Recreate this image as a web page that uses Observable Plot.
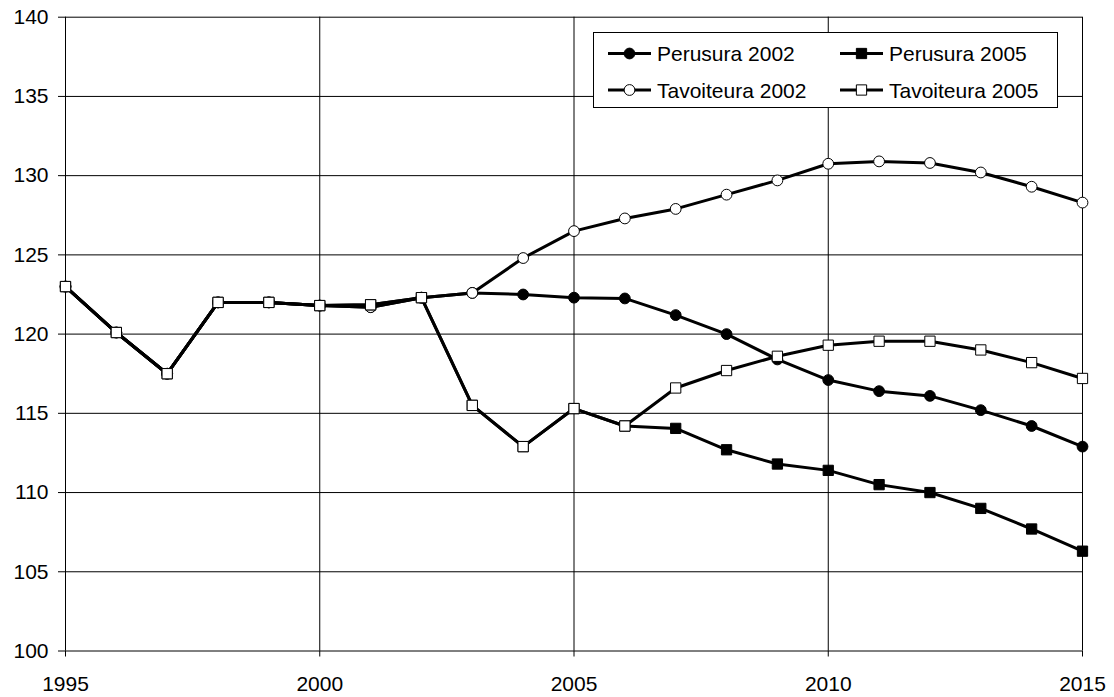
<!DOCTYPE html>
<html>
<head>
<meta charset="utf-8">
<script src="https://cdn.jsdelivr.net/npm/d3@7"></script>
<script src="https://cdn.jsdelivr.net/npm/@observablehq/plot@0.6"></script>
<style>
  html, body { margin: 0; padding: 0; background: #fff; }
  #wrap { position: relative; width: 1114px; height: 697px; font-family: "Liberation Sans", Arial, sans-serif; }
  #legend { position: absolute; left: 593px; top: 32px; }
</style>
</head>
<body>
<div id="wrap"><div id="chart"></div><div id="legend"></div></div>
<script>
const years = [1995,1996,1997,1998,1999,2000,2001,2002,2003,2004,2005,2006,2007,2008,2009,2010,2011,2012,2013,2014,2015];
const perusura2002   = [123.0,120.1,117.5,122.0,122.0,121.8,121.7,122.3,122.6,122.5,122.3,122.25,121.2,120.0,118.4,117.1,116.4,116.1,115.2,114.2,112.9];
const tavoiteura2002 = [123.0,120.1,117.5,122.0,122.0,121.8,121.7,122.3,122.6,124.8,126.5,127.3,127.9,128.8,129.7,130.75,130.9,130.8,130.2,129.3,128.3];
const perusura2005   = [123.0,120.1,117.5,122.0,122.0,121.8,121.85,122.3,115.5,112.9,115.3,114.2,114.05,112.7,111.8,111.4,110.5,110.0,109.0,107.7,106.3];
const tavoiteura2005 = [123.0,120.1,117.5,122.0,122.0,121.8,121.85,122.3,115.5,112.9,115.3,114.2,116.6,117.7,118.6,119.3,119.55,119.55,119.0,118.2,117.2];
const seriesNames = ["Perusura 2002","Tavoiteura 2002","Perusura 2005","Tavoiteura 2005"];
const xTicks = [1995,2000,2005,2010,2015];
const yTicks = [100,105,110,115,120,125,130,135,140];

const seriesDefs = [
  {name: seriesNames[0], values: perusura2002,   symbol: "circle", fill: "#000", r: 5.4},
  {name: seriesNames[1], values: tavoiteura2002, symbol: "circle", fill: "#fff", r: 5.4},
  {name: seriesNames[2], values: perusura2005,   symbol: "square", fill: "#000", r: 5.8},
  {name: seriesNames[3], values: tavoiteura2005, symbol: "square", fill: "#fff", r: 5.8}
];

const marks = [
  Plot.ruleY(yTicks, {stroke: "#000", strokeWidth: 1}),
  Plot.ruleX(xTicks, {stroke: "#000", strokeWidth: 1}),
  Plot.axisY(yTicks, {tickSize: 7, tickPadding: 10, fontSize: 21, stroke: "#000", label: null}),
  Plot.axisX(xTicks, {tickSize: 6, tickPadding: 19, fontSize: 21, stroke: "#000", label: null, tickFormat: d => String(d)})
];
for (const s of seriesDefs) {
  const data = years.map((year, i) => ({year, value: s.values[i]}));
  marks.push(Plot.line(data, {x: "year", y: "value", stroke: "#000", strokeWidth: 3, curve: "linear"}));
  marks.push(Plot.dot(data, {x: "year", y: "value", symbol: s.symbol, r: s.r, fill: s.fill, stroke: "#000", strokeWidth: 1}));
}

const chart = Plot.plot({
  width: 1114,
  height: 697,
  marginLeft: 65,
  marginRight: 32,
  marginTop: 16.7,
  marginBottom: 46.5,
  x: {domain: [1995, 2015]},
  y: {domain: [100, 140]},
  style: {fontFamily: "'Liberation Sans', Arial, sans-serif", fontSize: "21px", background: "#fff", color: "#000"},
  marks
});
document.getElementById("chart").appendChild(chart);

// Legend (inside plot area, top right)
const lw = 464, lh = 75;
const lsvg = d3.select("#legend").append("svg").attr("width", lw + 1).attr("height", lh + 1);
lsvg.append("rect").attr("x", 0.5).attr("y", 0.5).attr("width", lw).attr("height", lh)
  .attr("fill", "#fff").attr("stroke", "#000").attr("stroke-width", 1);
const legendPos = [
  {col: 0, row: 0}, {col: 0, row: 1}, {col: 1, row: 0}, {col: 1, row: 1}
];
seriesDefs.forEach((s, i) => {
  const p = legendPos[i];
  const x0 = p.col === 0 ? 15 : 247;
  const cy = p.row === 0 ? 21.5 : 58;
  const g = lsvg.append("g");
  g.append("line").attr("x1", x0).attr("x2", x0 + 43).attr("y1", cy).attr("y2", cy)
    .attr("stroke", "#000").attr("stroke-width", 3);
  const sym = d3.symbol().type(s.symbol === "circle" ? d3.symbolCircle : d3.symbolSquare)
    .size(s.r * s.r * Math.PI);
  g.append("path").attr("d", sym()).attr("transform", `translate(${x0 + 21.5},${cy})`)
    .attr("fill", s.fill).attr("stroke", "#000").attr("stroke-width", 1);
  g.append("text").attr("x", x0 + 49).attr("y", cy).attr("dy", "0.36em")
    .attr("font-size", 21).attr("font-family", "'Liberation Sans', Arial, sans-serif")
    .attr("fill", "#000").text(s.name);
});
</script>
</body>
</html>
